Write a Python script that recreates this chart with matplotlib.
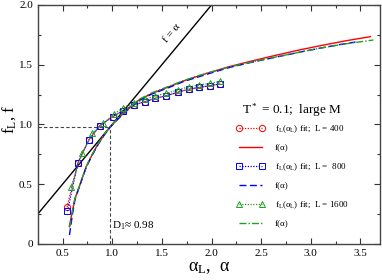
import matplotlib
matplotlib.use("Agg")
import matplotlib.pyplot as plt
from matplotlib.ticker import MultipleLocator, FixedFormatter, FixedLocator

plt.rcParams["font.family"] = ["Liberation Serif", "DejaVu Serif"]
plt.rcParams["mathtext.fontset"] = "custom"
plt.rcParams["mathtext.rm"] = "Liberation Serif"
plt.rcParams["mathtext.it"] = "Liberation Serif"
plt.rcParams["mathtext.default"] = "regular"

# fitted points f_L(alpha_L)
alpha_400 = [0.545, 0.655, 0.765, 0.875, 1.005, 1.107, 1.22, 1.33, 1.435, 1.545, 1.66, 1.77, 1.875, 1.985, 2.09]
f_400 = [0.31, 0.68, 0.87, 0.99, 1.065, 1.115, 1.165, 1.19, 1.22, 1.24, 1.27, 1.295, 1.31, 1.325, 1.34]
alpha_800 = [0.55, 0.655, 0.765, 0.875, 1.005, 1.107, 1.22, 1.33, 1.435, 1.545, 1.66, 1.77, 1.875, 1.985, 2.09]
f_800 = [0.275, 0.68, 0.87, 0.99, 1.065, 1.115, 1.165, 1.19, 1.22, 1.24, 1.27, 1.295, 1.31, 1.325, 1.34]
alpha_1600 = [0.585, 0.70, 0.80, 0.91, 1.02, 1.11, 1.22, 1.33, 1.435, 1.545, 1.66, 1.77, 1.875, 1.985, 2.09]
f_1600 = [0.475, 0.764, 0.926, 1.01, 1.088, 1.14, 1.18, 1.21, 1.24, 1.26, 1.29, 1.315, 1.33, 1.345, 1.36]

# f(alpha) curves
a_curve_400 = [0.568, 0.60, 0.625, 0.685, 0.74, 0.80, 0.86, 0.92, 0.98, 1.05, 1.12, 1.20, 1.27, 1.40,
               1.573, 1.72, 1.875, 2.0, 2.177, 2.4, 2.6, 2.88, 3.1, 3.35, 3.6]
f_curve_400 = [0.145, 0.28, 0.38, 0.52, 0.65, 0.75, 0.84, 0.915, 0.98, 1.04, 1.10, 1.155, 1.205, 1.26,
               1.316, 1.365, 1.408, 1.44, 1.484, 1.53, 1.57, 1.623, 1.66, 1.70, 1.735]
a_curve_800 = [0.57, 0.60, 0.625, 0.685, 0.74, 0.80, 0.86, 0.92, 0.98, 1.05, 1.12, 1.20, 1.27, 1.40,
               1.573, 1.72, 1.875, 2.0, 2.177, 2.4, 2.6, 2.88, 3.1, 3.3, 3.45]
f_curve_800 = [0.075, 0.25, 0.37, 0.515, 0.645, 0.745, 0.835, 0.912, 0.978, 1.038, 1.097, 1.152, 1.2, 1.255,
               1.31, 1.36, 1.40, 1.432, 1.476, 1.52, 1.555, 1.604, 1.64, 1.67, 1.69]
a_curve_1600 = [0.572, 0.60, 0.625, 0.685, 0.74, 0.80, 0.86, 0.92, 0.98, 1.05, 1.12, 1.20, 1.27, 1.40,
                1.573, 1.72, 1.875, 2.0, 2.177, 2.4, 2.6, 2.88, 3.1, 3.35, 3.63]
f_curve_1600 = [0.14, 0.275, 0.378, 0.52, 0.65, 0.752, 0.843, 0.918, 0.982, 1.045, 1.105, 1.16, 1.21, 1.265,
                1.32, 1.368, 1.41, 1.44, 1.48, 1.522, 1.557, 1.604, 1.64, 1.675, 1.707]

diag = [0.25, 2.0]
D1 = 0.98

red = "#ff0000"
blue = "#0000ff"
green = "#1fa01f"

fig = plt.figure(figsize=(3.82, 2.8), dpi=100)
ax = fig.add_axes([0.0987, 0.1286, 0.897, 0.8536])

ax.plot(diag, diag, color="black", lw=1.0)
ax.hlines(D1, 0.25, D1, colors="#444444", linestyles=(0, (3, 2)), lw=0.8)
ax.vlines(D1, 0, D1, colors="#444444", linestyles=(0, (3, 2)), lw=0.8)

h1, = ax.plot(alpha_400, f_400, ls=(0, (1, 1.2)), color=red, lw=0.9, marker="o", ms=4.5,
              mfc="none", mec=red, mew=0.7)
h2, = ax.plot(a_curve_400, f_curve_400, color=red, lw=1.0)
h3, = ax.plot(alpha_800, f_800, ls=(0, (1, 1.2)), color=blue, lw=0.9, marker="s", ms=4.2,
              mfc="none", mec=blue, mew=0.7)
h4, = ax.plot(a_curve_800, f_curve_800, color=blue, lw=1.0, ls=(0, (5, 2.5)))
h5, = ax.plot(alpha_1600, f_1600, ls=(0, (1, 1.2)), color=green, lw=0.9, marker="^", ms=4.5,
              mfc="none", mec=green, mew=0.7)
h6, = ax.plot(a_curve_1600, f_curve_1600, color=green, lw=1.0, ls=(0, (5, 1.5, 1, 1.5)))

ax.set_xlim(0.25, 3.7)
ax.set_ylim(0, 2.0)
ax.xaxis.set_major_locator(MultipleLocator(0.5))
ax.xaxis.set_minor_locator(MultipleLocator(0.25))
ax.yaxis.set_major_locator(FixedLocator([0, 0.5, 1.0, 1.5, 2.0]))
ax.yaxis.set_major_formatter(FixedFormatter(["0", "0.5", "1.0", "1.5", "2.0"]))
ax.yaxis.set_minor_locator(MultipleLocator(0.25))
ax.tick_params(which="both", direction="in", top=True, right=True, labelsize=8, width=0.8, color="#333333")
ax.tick_params(which="major", length=4)
ax.tick_params(which="minor", length=2.5)
for s in ax.spines.values():
    s.set_linewidth(1.0)
    s.set_color("#444444")

ax.set_xlabel(r"α$_L$,  α", fontsize=13, labelpad=1)
ax.set_ylabel(r"f$_L$, f", fontsize=12)
ax.yaxis.set_label_coords(-0.058, 0.52)

ax.text(1.6, 1.76, "f = α", rotation=50, fontsize=8, ha="center", va="center")
ax.text(1.0, 0.15, r"D$_1$≈ 0.98", fontsize=8, ha="left", va="center")

lab = r"f$_L$(α$_L$) fit;  L = "
leg = ax.legend([h1, h2, h3, h4, h5, h6],
                [lab + "400", "f(α)", lab + " 800", "f(α)", lab + "1600", "f(α)"],
                title=r"T$^*$ = 0.1;  large M", title_fontsize=9.5, fontsize=6.5,
                frameon=False, numpoints=2, handlelength=3.2, handletextpad=1.1,
                labelspacing=1.0, loc="upper left", bbox_to_anchor=(0.555, 0.63))
leg._legend_box.align = "center"
leg._legend_box.sep = 3

fig.savefig("out.png", dpi=100)
